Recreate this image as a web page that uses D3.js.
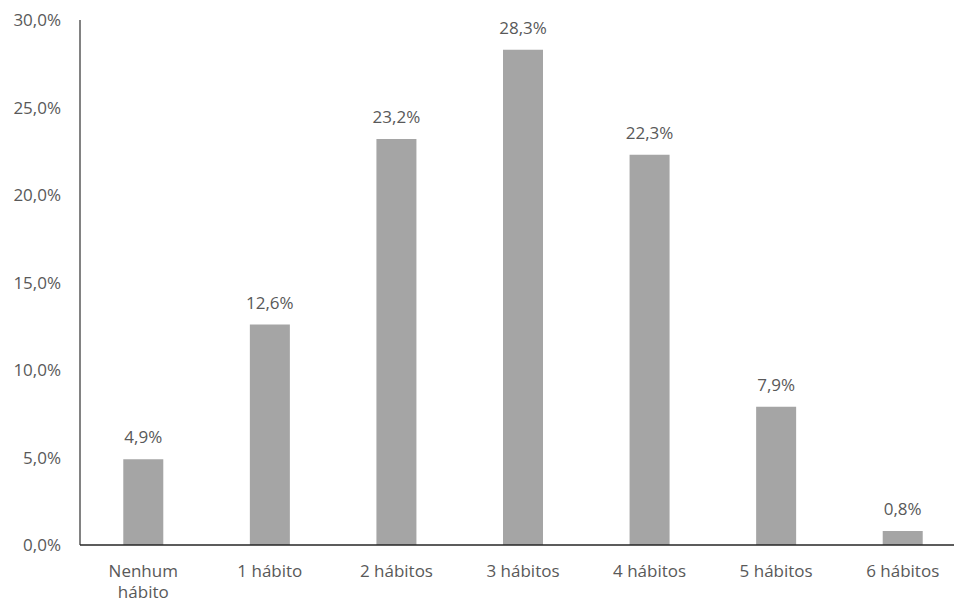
<!DOCTYPE html>
<html>
<head>
<meta charset="utf-8">
<script src="https://cdn.jsdelivr.net/npm/d3@7"></script>
<style>
  body { margin: 0; background: #fff; overflow: hidden; }
  text { font-family: "Open Sans", sans-serif; fill: #595959; }
</style>
</head>
<body>
<script>
// data
var categories = ["Nenhum hábito", "1 hábito", "2 hábitos", "3 hábitos", "4 hábitos", "5 hábitos", "6 hábitos"];
var values = [4.9, 12.6, 23.2, 28.3, 22.3, 7.9, 0.8];
var yTicks = [0, 5, 10, 15, 20, 25, 30];

var W = 954, H = 602;
var margin = {top: 20, left: 80, bottom: 57};
var plotRight = 966;

var fmt = function (v) { return v.toFixed(1).replace(".", ",") + "%"; };

var svg = d3.select("body").append("svg")
    .attr("width", W)
    .attr("height", H);

var x = d3.scaleBand()
    .domain(categories)
    .range([margin.left, plotRight])
    .paddingInner(0)
    .paddingOuter(0);

var y = d3.scaleLinear()
    .domain([0, 30])
    .range([H - margin.bottom, margin.top]);

var barW = 40;

// bars
svg.selectAll(".bar")
    .data(values)
    .enter().append("rect")
    .attr("class", "bar")
    .attr("x", function (d, i) { return x(categories[i]) + x.bandwidth() / 2 - barW / 2; })
    .attr("width", barW)
    .attr("y", function (d) { return y(d); })
    .attr("height", function (d) { return y(0) - y(d); })
    .style("fill", "#a5a5a5");

// value labels
svg.selectAll(".val")
    .data(values)
    .enter().append("text")
    .attr("x", function (d, i) { return x(categories[i]) + x.bandwidth() / 2; })
    .attr("y", function (d) { return y(d) - 16; })
    .attr("text-anchor", "middle")
    .style("font-size", "17px")
    .text(fmt);

// y axis labels
svg.selectAll(".ytick")
    .data(yTicks)
    .enter().append("text")
    .attr("x", 61)
    .attr("y", function (d) { return y(d); })
    .attr("dy", "0.36em")
    .attr("text-anchor", "end")
    .style("font-size", "17px")
    .text(fmt);

// axes lines
svg.append("line")
    .attr("x1", margin.left).attr("x2", margin.left)
    .attr("y1", y(30)).attr("y2", y(0))
    .style("stroke", "#595959").style("stroke-width", 1.5);

svg.append("line")
    .attr("x1", margin.left).attr("x2", plotRight)
    .attr("y1", y(0)).attr("y2", y(0))
    .style("stroke", "#262626").style("stroke-width", 1.5);

// category labels (may wrap onto two lines)
var xl = svg.selectAll(".xlab")
    .data(categories)
    .enter().append("text")
    .attr("text-anchor", "middle")
    .style("font-size", "17px")
    .attr("transform", function (d) { return "translate(" + (x(d) + x.bandwidth() / 2) + "," + (y(0) + 32) + ")"; });

xl.each(function (d) {
    var lines = d === "Nenhum hábito" ? ["Nenhum", "hábito"] : [d];
    var t = d3.select(this);
    lines.forEach(function (l, i) {
        t.append("tspan").attr("x", 0).attr("y", i * 21).text(l);
    });
});
</script>
</body>
</html>
